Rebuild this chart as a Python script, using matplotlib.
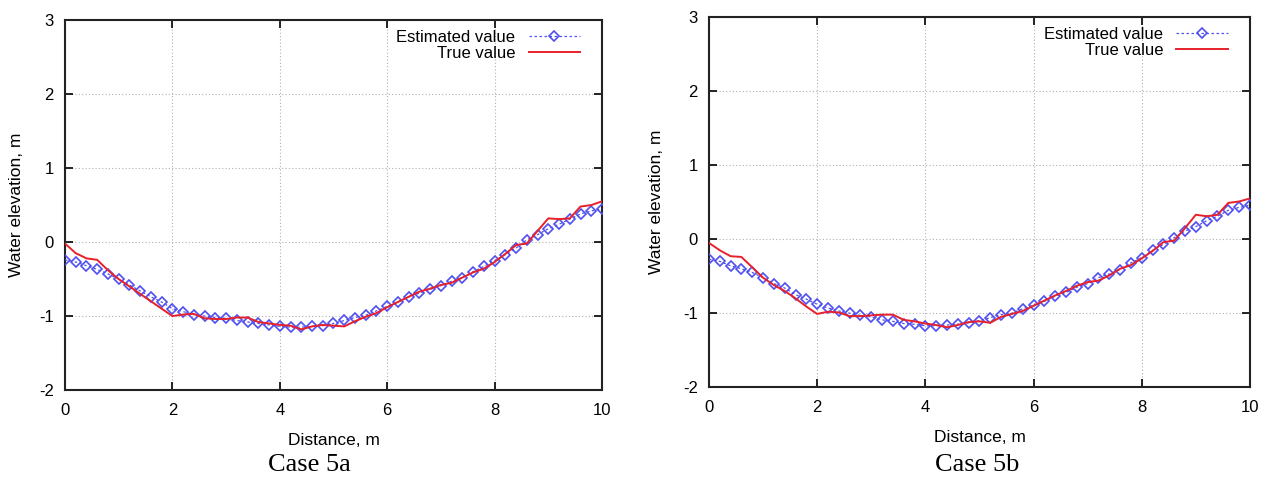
import numpy as np
import matplotlib
matplotlib.use("Agg")
import matplotlib.pyplot as plt

plt.rcParams["font.family"] = ["Liberation Sans", "DejaVu Sans"]
plt.rcParams["axes.unicode_minus"] = False

# distance along channel, m (every 0.2 m)
distance = np.round(np.arange(0, 10.01, 0.2), 1)

# case 5a
est_5a = [-0.24, -0.27, -0.32, -0.37, -0.43, -0.50, -0.58, -0.66, -0.74, -0.81,
          -0.90, -0.94, -0.98, -1.00, -1.02, -1.03, -1.06, -1.08, -1.10, -1.12,
          -1.14, -1.15, -1.15, -1.14, -1.13, -1.10, -1.06, -1.02, -0.99, -0.93,
          -0.87, -0.81, -0.74, -0.69, -0.64, -0.59, -0.53, -0.48, -0.40, -0.33,
          -0.25, -0.17, -0.08, 0.03, 0.10, 0.18, 0.24, 0.31, 0.38, 0.42, 0.45]
true_5a = [-0.02, -0.15, -0.22, -0.24, -0.38, -0.50, -0.60, -0.70, -0.80, -0.90,
           -1.00, -0.98, -0.97, -1.03, -1.04, -1.04, -1.02, -1.02, -1.08, -1.10,
           -1.12, -1.13, -1.18, -1.14, -1.12, -1.13, -1.14, -1.07, -1.01, -0.96,
           -0.88, -0.81, -0.74, -0.67, -0.63, -0.58, -0.55, -0.48, -0.41, -0.36,
           -0.27, -0.16, -0.04, -0.02, 0.15, 0.32, 0.31, 0.32, 0.48, 0.50, 0.55]

# case 5b
est_5b = [-0.27, -0.30, -0.36, -0.40, -0.45, -0.52, -0.60, -0.66, -0.75, -0.81,
          -0.88, -0.93, -0.97, -1.00, -1.03, -1.05, -1.09, -1.11, -1.14, -1.15,
          -1.17, -1.17, -1.16, -1.15, -1.13, -1.10, -1.06, -1.02, -1.00, -0.94,
          -0.89, -0.84, -0.77, -0.72, -0.65, -0.60, -0.52, -0.47, -0.41, -0.32,
          -0.25, -0.15, -0.07, 0.02, 0.11, 0.17, 0.25, 0.31, 0.39, 0.43, 0.46]
true_5b = [-0.05, -0.15, -0.23, -0.24, -0.38, -0.52, -0.62, -0.70, -0.80, -0.91,
           -1.01, -0.98, -0.99, -1.04, -1.04, -1.03, -1.02, -1.02, -1.09, -1.11,
           -1.14, -1.16, -1.19, -1.16, -1.12, -1.11, -1.13, -1.05, -1.01, -0.97,
           -0.90, -0.83, -0.76, -0.70, -0.63, -0.58, -0.56, -0.49, -0.40, -0.35,
           -0.26, -0.16, -0.04, -0.02, 0.15, 0.33, 0.31, 0.33, 0.49, 0.51, 0.55]

cases = ["Case 5a", "Case 5b"]
x_ticks = [0, 2, 4, 6, 8, 10]
y_ticks = [-2, -1, 0, 1, 2, 3]

fig = plt.figure(figsize=(12.66, 4.78), dpi=100)
ax1 = fig.add_axes([0.0513, 0.184, 0.4242, 0.774])
ax2 = fig.add_axes([0.560, 0.190, 0.4273, 0.774])

panels = [(ax1, est_5a, true_5a, cases[0], -0.077, 0.244),
          (ax2, est_5b, true_5b, cases[1], -0.084, 0.772)]
for ax, est, tru, name, ylab_x, cap_x in panels:
    ax.plot(distance, est, color="#5050f0", ls=(0, (2, 2)), lw=0.9,
            marker="D", ms=5.6, mfc="none", mec="#5050f0", mew=1.2,
            label="Estimated value", zorder=3)
    ax.plot(distance, tru, color="#e8202a", lw=1.4, label="True value", zorder=4)
    ax.set_xlim(0, 10)
    ax.set_ylim(-2, 3)
    ax.set_xticks(x_ticks)
    ax.set_yticks(y_ticks)
    ax.tick_params(direction="in", length=6, width=1.2, top=True, right=True,
                   labelsize=12)
    ax.tick_params(axis="x", pad=9)
    ax.tick_params(axis="y", pad=8)
    ax.grid(True, color="#b0b0b0", ls=(0, (1, 2)), lw=0.8)
    for s in ax.spines.values():
        s.set_linewidth(1.5)
        s.set_color("#222222")
    ax.set_xlabel("Distance, m", fontsize=12.5, labelpad=11)
    ax.set_ylabel("Water elevation, m", fontsize=12.5)
    ax.yaxis.set_label_coords(ylab_x, 0.5)
    ax.legend(loc="upper right", bbox_to_anchor=(0.978, 1.0), frameon=False,
              markerfirst=False, fontsize=12, numpoints=1, handlelength=3.1,
              borderaxespad=0.2, labelspacing=0.05, handletextpad=0.8)
    fig.text(cap_x, 0.028, name, ha="center", va="center",
             fontsize=19, family=["Liberation Serif", "DejaVu Serif"])

fig.savefig("out.png", dpi=100)
